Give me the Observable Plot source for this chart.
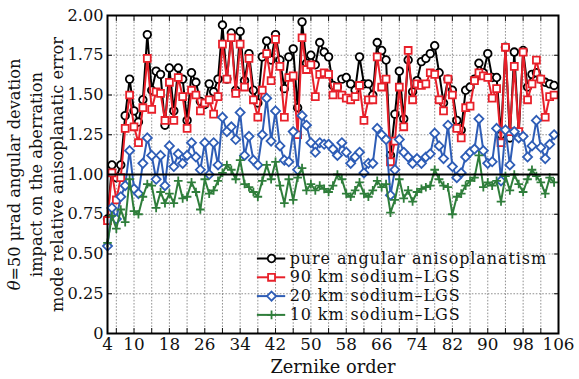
<!DOCTYPE html>
<html><head><meta charset="utf-8">
<script src="https://cdn.jsdelivr.net/npm/d3@7"></script>
<script src="https://cdn.jsdelivr.net/npm/@observablehq/plot@0.6"></script>
<style>
html,body{margin:0;padding:0;background:#fff;}
#chart svg{display:block;}
</style>
</head><body><div id="chart"></div>
<script>
// ---- data ----
const zernikeOrder = [4,5,6,7,8,9,10,11,12,13,14,15,16,17,18,19,20,21,22,23,
  24,25,26,27,28,29,30,31,32,33,34,35,36,37,38,39,40,41,42,43,
  44,45,46,47,48,49,50,51,52,53,54,55,56,57,58,59,60,61,62,63,
  64,65,66,67,68,69,70,71,72,73,74,75,76,77,78,79,80,81,82,83,
  84,85,86,87,88,89,90,91,92,93,94,95,96,97,98,99,100,101,102,103,104,105];

const pureAngular = [0.72,1.06,0.98,1.06,1.37,1.60,1.40,1.33,1.47,1.88,1.53,1.65,1.63,1.31,1.67,1.40,1.67,1.60,1.34,1.64,
  1.58,1.46,1.44,1.57,1.52,1.60,1.94,1.60,1.89,1.53,1.90,1.59,1.76,1.53,1.45,1.74,1.84,1.72,1.88,1.72,
  1.54,1.74,1.79,1.42,1.96,1.70,1.75,1.69,1.83,1.77,1.74,1.56,1.55,1.60,1.61,1.57,1.53,1.74,1.57,1.57,
  1.50,1.83,1.78,1.72,1.12,1.38,1.65,1.35,1.72,1.52,1.59,1.71,1.73,1.76,1.81,1.64,1.45,1.60,1.53,1.34,
  1.28,1.53,1.55,1.60,1.70,1.64,1.76,1.61,1.61,1.25,1.80,1.23,1.77,1.25,1.78,1.55,1.63,1.64,1.60,1.58,1.57,1.56];

const sodium90 = [0.71,1.01,0.84,0.98,1.29,1.50,1.30,1.20,1.42,1.73,1.41,1.52,1.51,1.34,1.58,1.34,1.61,1.49,1.29,1.53,
  1.50,1.40,1.45,1.47,1.38,1.49,1.82,1.60,1.86,1.51,1.82,1.55,1.73,1.47,1.36,1.53,1.76,1.59,1.85,1.68,
  1.36,1.61,1.62,1.25,1.86,1.66,1.69,1.49,1.63,1.64,1.63,1.50,1.55,1.50,1.48,1.47,1.49,1.56,1.34,1.47,
  1.47,1.74,1.55,1.60,1.08,1.21,1.55,1.30,1.78,1.47,1.57,1.56,1.57,1.64,1.63,1.47,1.40,1.60,1.50,1.29,
  1.23,1.42,1.43,1.59,1.64,1.62,1.61,1.48,1.54,1.20,1.80,1.27,1.68,1.27,1.77,1.47,1.57,1.72,1.60,1.36,1.49,1.50];

const sodium20 = [0.55,0.79,0.72,0.86,0.93,1.15,0.91,0.88,1.07,1.23,1.12,0.97,1.12,0.93,1.18,1.05,1.13,1.07,1.12,1.20,
  1.11,1.03,1.20,1.00,1.20,1.06,1.36,1.27,1.30,1.22,1.39,1.12,1.24,1.09,1.06,1.25,1.48,1.21,1.40,1.18,
  1.09,1.08,1.27,1.03,1.37,1.31,1.20,1.14,1.20,1.19,1.19,1.16,1.12,1.20,1.14,1.07,1.11,1.14,1.01,1.07,
  1.07,1.29,1.25,1.22,0.87,1.03,1.22,1.14,1.11,1.07,1.10,1.07,1.11,1.13,1.26,1.18,1.10,1.31,1.05,0.98,
  1.01,1.11,1.14,1.16,1.35,1.15,1.07,1.08,1.29,0.96,1.28,1.06,1.27,1.23,1.24,1.11,1.18,1.34,1.17,1.10,1.19,1.25];

const sodium10 = [0.57,0.74,0.66,0.78,0.70,0.97,0.77,0.75,0.86,0.94,0.93,0.79,0.89,0.82,0.88,0.82,0.96,0.85,0.86,0.95,
  0.89,0.78,0.97,0.88,0.90,0.96,1.01,1.06,1.03,0.97,1.09,0.94,0.92,0.89,0.86,0.96,1.06,0.97,1.08,0.93,
  0.82,0.97,0.84,0.98,1.04,0.90,0.94,0.90,0.93,0.91,0.89,0.93,1.00,0.97,0.88,0.86,0.90,0.95,0.88,0.86,
  0.90,0.96,0.92,0.94,0.76,0.84,0.97,0.85,0.90,0.83,0.89,0.91,0.92,0.93,1.03,0.97,0.93,0.92,0.75,0.86,
  0.88,0.93,0.96,0.98,1.12,0.92,0.95,0.93,0.96,0.83,0.99,0.90,1.00,0.94,0.89,0.97,1.03,0.99,0.95,0.88,0.98,0.95];

const seriesNames = ["pure angular anisoplanatism", "90 km sodium–LGS", "20 km sodium–LGS", "10 km sodium–LGS"];
const xTickLabels = [4,10,18,26,34,42,50,58,66,74,82,90,98,106];
const xMinorTicks = [6,10,14,18,22,26,30,34,38,42,46,50,54,58,62,66,70,74,78,82,86,90,94,98,102,106];
const yTicks = [0,0.25,0.5,0.75,1,1.25,1.5,1.75,2];
const yTitle = "θ=50 μrad angular devation\nimpact on the aberration\nmode relative anisoplanatic error";
const xTitle = "Zernike order";

// ---- styles ----
const seriesValues = [pureAngular, sodium90, sodium20, sodium10];
const styles = [
  {color: "#000000", symbol: "circle", r: 3.8, fill: "white"},
  {color: "#e8202a", symbol: "square", r: 3.9, fill: "white"},
  {color: "#2e5db6", symbol: "diamond2", r: 4.1, fill: "white"},
  {color: "#2f7e3b", symbol: "plus", r: 2.9, fill: "none"}
];
const legendX1 = 37.9, legendX2 = 44.3, legendMark = 41.1, legendText = 45.2;
const legendY = [0.4717, 0.3535, 0.2352, 0.1170];

const font = "DejaVu Serif";
const marks = [
  Plot.gridX(xMinorTicks.filter(d => d < 106), {stroke: "#666", strokeOpacity: 0.8, strokeDasharray: "1.6,1.6", strokeWidth: 0.9}),
  Plot.gridY(yTicks.filter(d => d > 0 && d < 2), {stroke: "#666", strokeOpacity: 0.8, strokeDasharray: "1.6,1.6", strokeWidth: 0.9}),
  Plot.axisX(xMinorTicks, {anchor: "bottom", tickSize: -5, fill: "none", label: null, strokeWidth: 1}),
  Plot.axisX(xMinorTicks, {anchor: "top", tickSize: -5, fill: "none", label: null, strokeWidth: 1}),
  Plot.axisX(xTickLabels, {anchor: "bottom", tickSize: 0, tickPadding: 5, fontSize: 16.8, label: null, fill: "#111", tickFormat: d => String(d)}),
  Plot.axisY(yTicks, {anchor: "left", tickSize: -5, fill: "none", label: null, strokeWidth: 1}),
  Plot.axisY(yTicks, {anchor: "right", tickSize: -5, fill: "none", label: null, strokeWidth: 1}),
  Plot.axisY(yTicks, {anchor: "left", tickSize: 0, tickPadding: 4, fontSize: 16.2, label: null, fill: "#111",
    tickFormat: d => d === 0 ? "0" : d.toFixed(2)})
];

seriesValues.forEach((vals, i) => {
  const st = styles[i];
  const rows = zernikeOrder.map((n, j) => ({n, v: vals[j]}));
  marks.push(Plot.line(rows, {x: "n", y: "v", stroke: st.color, strokeWidth: 2}));
  marks.push(Plot.dot(rows, {x: "n", y: "v", symbol: () => st.symbol, r: st.r, stroke: st.color, fill: st.fill, strokeWidth: 1.8}));
});

marks.push(Plot.ruleY([1], {stroke: "black", strokeWidth: 1.8}));

// legend
seriesNames.forEach((name, i) => {
  const st = styles[i];
  const row = [{name, y: legendY[i]}];
  marks.push(Plot.ruleY(row, {y: "y", x1: legendX1, x2: legendX2, stroke: st.color, strokeWidth: 2}));
  marks.push(Plot.dot(row, {x: () => legendMark, y: "y", symbol: () => st.symbol, r: st.r, stroke: st.color, fill: st.fill, strokeWidth: 1.8}));
  marks.push(Plot.text(row, {x: () => legendText, y: "y", text: "name", textAnchor: "start", fontSize: 16, fill: "#111", className: "legend-label"}));
});

marks.push(Plot.text([xTitle], {frameAnchor: "bottom", dy: 34, lineAnchor: "middle", fontSize: 17.8, fill: "#111"}));
marks.push(Plot.text([yTitle], {frameAnchor: "left", dx: -73, rotate: -90, textAnchor: "middle", lineAnchor: "middle", lineHeight: 1.35, fontSize: 16.2, fill: "#111"}));
marks.push(Plot.frame({stroke: "black", strokeWidth: 2}));

const chart = Plot.plot({
  width: 579,
  height: 379,
  marginLeft: 107,
  marginRight: 21,
  marginTop: 15,
  marginBottom: 46,
  style: {fontFamily: font, fontSize: "17px", background: "white", color: "#111"},
  x: {domain: [4, 106]},
  y: {domain: [0, 2]},
  marks
});

// widen legend lettering slightly to match the reference's text width
d3.select(chart).selectAll(".legend-label text, g.legend-label text, text.legend-label").attr("letter-spacing", "0.9px");
d3.select(chart).selectAll("text").filter(function() { return seriesNames.includes(this.textContent); }).attr("letter-spacing", "0.9px");

// italic theta in the y-axis title
d3.select(chart).selectAll("tspan").each(function() {
  const t = this.textContent;
  if (t.startsWith("θ")) {
    const s = d3.select(this);
    s.text(null);
    s.append("tspan").attr("font-style", "italic").text("θ");
    s.append("tspan").text(t.slice(1));
  }
});

document.getElementById("chart").appendChild(chart);
</script>
</body></html>
